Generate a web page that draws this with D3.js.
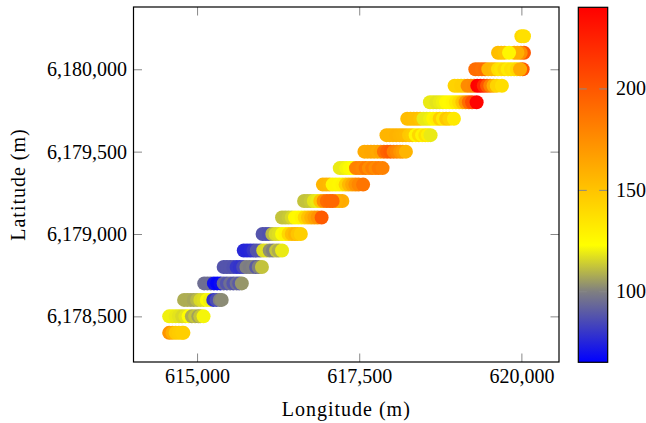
<!DOCTYPE html>
<html>
<head>
<meta charset="utf-8">
<script src="https://cdn.jsdelivr.net/npm/d3@7"></script>
<style>
  body { margin: 0; background: #fff; }
  svg text { font-family: "Liberation Serif", serif; fill: #000; }
</style>
</head>
<body>
<svg width="646" height="423"></svg>
<script>
// one row per latitude, points listed in the order they are drawn
const latitudes = [6178400, 6178500, 6178600, 6178700, 6178800, 6178900, 6179000, 6179100, 6179200, 6179300,
  6179400, 6179500, 6179600, 6179700, 6179800, 6179900, 6180000, 6180100, 6180200]

const longitudes = [
  [614570, 614620, 614670, 614720, 614770, 614790],
  [614570, 614620, 614670, 614720, 614770, 614820, 614870, 614920, 614970, 615020, 615050, 615100],
  [614800, 614850, 614900, 614950, 615000, 615050, 615100, 615150, 615200, 615250, 615300, 615350, 615380],
  [615110, 615160, 615210, 615260, 615310, 615360, 615410, 615460, 615510, 615560, 615610, 615650, 615690],
  [615410, 615460, 615510, 615560, 615610, 615660, 615710, 615760, 615810, 615860, 615910, 615950, 616000],
  [615720, 615770, 615820, 615870, 615920, 615970, 616020, 616070, 616120, 616170, 616220, 616260, 616310],
  [616010, 616060, 616110, 616160, 616210, 616260, 616310, 616360, 616410, 616460, 616510, 616550, 616600],
  [616310, 616360, 616410, 616460, 616510, 616560, 616610, 616660, 616710, 616760, 616810, 616860, 616920],
  [617240, 617190, 617140, 616650, 616700, 616750, 616800, 616850, 616900, 616950, 617000, 617050, 617090],
  [616940, 616990, 617040, 617090, 617140, 617190, 617240, 617290, 617340, 617390, 617440, 617490, 617560],
  [617200, 617250, 617300, 617350, 617400, 617450, 617500, 617550, 617600, 617650, 617700, 617750, 617800, 617860],
  [617580, 617630, 617680, 617730, 617780, 617830, 617880, 617930, 617980, 618030, 618080, 618130, 618170, 618220],
  [617920, 617970, 618020, 618070, 618120, 618170, 618220, 618270, 618320, 618370, 618420, 618470, 618520, 618560, 618600],
  [618240, 618290, 618340, 618390, 618440, 618490, 618540, 618590, 618640, 618690, 618740, 618790, 618840, 618890, 618960],
  [618590, 618640, 618690, 618740, 618790, 618840, 618890, 618940, 618990, 619040, 619090, 619140, 619190, 619240, 619310],
  [618970, 619020, 619070, 619120, 619170, 619220, 619270, 619320, 619370, 619420, 619470, 619520, 619570, 619620, 619700],
  [620020, 619290, 619340, 619390, 619440, 619490, 619540, 619590, 619640, 619690, 619740, 619790, 619840, 619890, 619930, 619980],
  [620040, 619990, 619940, 619890, 619640, 619690, 619740, 619810],
  [620000, 620040]
]

const values = [
  [172, 160, 148, 146, 145, 145],
  [120, 120, 119, 118, 116, 118, 123, 108, 112, 106, 112, 121],
  [108, 108, 108, 107, 110, 116, 117, 122, 120, 78, 86, 100, 102],
  [95, 95, 95, 70, 66, 68, 93, 88, 95, 88, 96, 90, 104],
  [88, 88, 88, 87, 80, 79, 85, 100, 99, 100, 90, 100, 112],
  [76, 75, 76, 80, 88, 88, 116, 117, 103, 100, 112, 108, 119],
  [88, 88, 87, 110, 116, 117, 122, 127, 140, 152, 157, 150, 145],
  [112, 112, 113, 116, 126, 125, 128, 140, 150, 158, 165, 172, 198],
  [160, 162, 160, 112, 112, 113, 118, 119, 150, 175, 190, 192, 192],
  [157, 157, 155, 127, 127, 126, 128, 143, 155, 163, 172, 178, 186],
  [119, 119, 121, 122, 124, 180, 180, 178, 185, 175, 182, 176, 183, 180],
  [162, 162, 163, 163, 162, 165, 188, 195, 198, 182, 178, 172, 168, 157],
  [157, 157, 157, 158, 157, 156, 155, 148, 146, 127, 140, 128, 137, 130, 119],
  [153, 153, 152, 152, 150, 119, 119, 120, 127, 130, 145, 133, 148, 143, 133],
  [119, 119, 118, 119, 120, 126, 125, 127, 132, 138, 150, 170, 190, 205, 238],
  [143, 143, 145, 145, 176, 176, 178, 240, 238, 220, 200, 180, 160, 143, 138],
  [200, 190, 190, 188, 190, 157, 157, 155, 138, 135, 140, 132, 137, 135, 140, 162],
  [200, 175, 160, 160, 153, 152, 150, 127],
  [140, 137]
]

const xTicks = [615000, 617500, 620000]
const yTicks = [6178500, 6179000, 6179500, 6180000]
const colorTicks = [100, 150, 200]
const metaRange = [65, 240]
const xLimits = [614020, 620580]
const yLimits = [6178223, 6180378]

// colormap: blue -> gray -> yellow -> red
const cmapPos = [0, 0.2, 0.33, 1]
const cmapColors = ["#0000ff", "#808080", "#ffff00", "#ff0000"]

const svg = d3.select("svg")
const plot = { left: 133.5, right: 559, top: 7, bottom: 362 }
const bar = { left: 578.3, right: 607.7, top: 7.3, bottom: 362.3 }
const tickLen = 8.5
const fmt = d3.format(",")

const x = d3.scaleLinear().domain(xLimits).range([plot.left, plot.right])
const y = d3.scaleLinear().domain(yLimits).range([plot.bottom, plot.top])
const color = d3.scaleLinear()
  .domain(cmapPos.map(p => metaRange[0] + p * (metaRange[1] - metaRange[0])))
  .range(cmapColors)
  .clamp(true)

const points = latitudes.flatMap((lat, i) =>
  longitudes[i].map((lon, j) => ({ lon: lon, lat: lat, v: values[i][j] })))

svg.append("defs").append("clipPath").attr("id", "clip")
  .append("rect")
  .attr("x", plot.left).attr("y", plot.top)
  .attr("width", plot.right - plot.left).attr("height", plot.bottom - plot.top)

svg.append("g")
  .attr("clip-path", "url(#clip)")
  .selectAll("circle")
  .data(points)
  .enter()
  .append("circle")
  .attr("cx", d => x(d.lon))
  .attr("cy", d => y(d.lat))
  .attr("r", 7)
  .attr("fill", d => color(d.v))

function styleAxis(g) {
  g.select(".domain").remove()
  g.selectAll(".tick line").attr("stroke", "#888").attr("stroke-width", 1)
  g.selectAll("text").attr("font-size", 20).attr("font-family", "Liberation Serif")
}

// main axes, ticks pointing inward and mirrored
svg.append("g")
  .attr("transform", "translate(0," + plot.bottom + ")")
  .call(d3.axisBottom(x).tickValues(xTicks).tickFormat(fmt).tickSize(-tickLen).tickPadding(7))
  .call(styleAxis)
svg.append("g")
  .attr("transform", "translate(0," + plot.top + ")")
  .call(d3.axisTop(x).tickValues(xTicks).tickFormat("").tickSize(-tickLen))
  .call(styleAxis)
svg.append("g")
  .attr("transform", "translate(" + plot.left + ",0)")
  .call(d3.axisLeft(y).tickValues(yTicks).tickFormat(fmt).tickSize(-tickLen).tickPadding(6.5))
  .call(styleAxis)
svg.append("g")
  .attr("transform", "translate(" + plot.right + ",0)")
  .call(d3.axisRight(y).tickValues(yTicks).tickFormat("").tickSize(-tickLen))
  .call(styleAxis)

svg.append("rect")
  .attr("x", plot.left).attr("y", plot.top)
  .attr("width", plot.right - plot.left).attr("height", plot.bottom - plot.top)
  .attr("fill", "none").attr("stroke", "#000").attr("stroke-width", 1.2)

svg.append("text")
  .attr("x", (plot.left + plot.right) / 2)
  .attr("y", 415.5)
  .attr("text-anchor", "middle")
  .attr("font-size", 20)
  .attr("letter-spacing", 1)
  .text("Longitude (m)")

svg.append("text")
  .attr("transform", "translate(25," + (plot.top + plot.bottom) / 2 + ") rotate(-90)")
  .attr("text-anchor", "middle")
  .attr("font-size", 20)
  .attr("letter-spacing", 1)
  .text("Latitude (m)")

// colorbar
const cbar = d3.scaleLinear().domain(metaRange).range([bar.bottom, bar.top])
const grad = svg.select("defs").append("linearGradient")
  .attr("id", "cmap")
  .attr("x1", 0).attr("y1", 1).attr("x2", 0).attr("y2", 0)
grad.selectAll("stop")
  .data(cmapPos)
  .enter()
  .append("stop")
  .attr("offset", d => d)
  .attr("stop-color", (d, i) => cmapColors[i])

svg.append("rect")
  .attr("x", bar.left).attr("y", bar.top)
  .attr("width", bar.right - bar.left).attr("height", bar.bottom - bar.top)
  .attr("fill", "url(#cmap)")

svg.append("g")
  .attr("transform", "translate(" + bar.right + ",0)")
  .call(d3.axisRight(cbar).tickValues(colorTicks).tickSize(-tickLen).tickPadding(8.3))
  .call(styleAxis)
svg.append("g")
  .attr("transform", "translate(" + bar.left + ",0)")
  .call(d3.axisLeft(cbar).tickValues(colorTicks).tickFormat("").tickSize(-tickLen))
  .call(styleAxis)

svg.append("rect")
  .attr("x", bar.left).attr("y", bar.top)
  .attr("width", bar.right - bar.left).attr("height", bar.bottom - bar.top)
  .attr("fill", "none").attr("stroke", "#000").attr("stroke-width", 1.2)
</script>
</body>
</html>
